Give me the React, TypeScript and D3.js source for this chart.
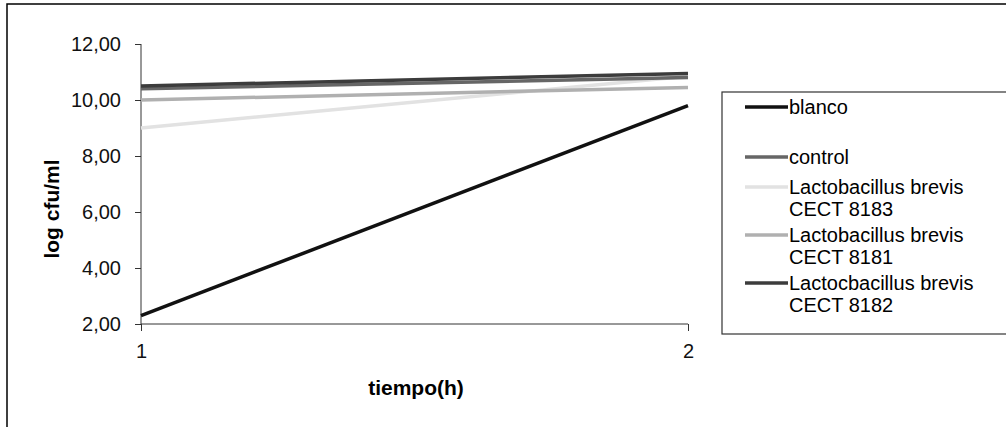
import { useRef, useEffect } from "react";
import * as d3 from "d3";

const times = [1, 2];
const seriesNames = [
  "blanco",
  "control",
  "Lactobacillus brevis\nCECT 8183",
  "Lactobacillus brevis\nCECT 8181",
  "Lactocbacillus brevis\nCECT 8182",
];
const blanco = [2.3, 9.8];
const control = [10.4, 10.8];
const brevis8183 = [9.0, 10.85];
const brevis8181 = [10.0, 10.45];
const brevis8182 = [10.5, 10.95];
const yTicks = [2, 4, 6, 8, 10, 12];

const colors = ["#111111", "#666666", "#e2e2e2", "#b0b0b0", "#3c3c3c"];

export default function App() {
  const svgRef = useRef<SVGSVGElement>(null);

  useEffect(() => {
    if (!svgRef.current) return;
    const svg = d3.select(svgRef.current);
    svg.selectAll("*").remove();

    const font = "'Liberation Sans', Arial, sans-serif";
    const x = d3.scaleLinear().domain([1, 2]).range([141, 688]);
    const y = d3.scaleLinear().domain([2, 12]).range([324, 44]);

    // outer frame
    svg.append("rect")
      .attr("x", 7).attr("y", 4)
      .attr("width", 1010).attr("height", 440)
      .attr("fill", "white").attr("stroke", "#000").attr("stroke-width", 1.5);

    // axes
    const yAxis = svg.append("g").attr("transform", "translate(141,0)")
      .call(d3.axisLeft(y).tickValues(yTicks).tickSize(6).tickPadding(14)
        .tickFormat((d) => d3.format(".2f")(d as number).replace(".", ",")));
    yAxis.select(".domain").attr("stroke", "#333").attr("d", "M0,44V324");
    yAxis.selectAll("line").attr("stroke", "#333");
    yAxis.selectAll("text").attr("font-family", font).attr("font-size", 20).attr("fill", "#111");

    const xAxis = svg.append("g").attr("transform", "translate(0,324)")
      .call(d3.axisBottom(x).tickValues(times).tickSize(7).tickPadding(13)
        .tickFormat((d) => String(d)));
    xAxis.select(".domain").attr("stroke", "#333").attr("d", "M141,0H688");
    xAxis.selectAll("line").attr("stroke", "#333");
    xAxis.selectAll("text").attr("font-family", font).attr("font-size", 20).attr("fill", "#111");

    // lines
    const data = [blanco, control, brevis8183, brevis8181, brevis8182];
    const line = d3.line<number>().x((_, i) => x(times[i])).y((d) => y(d));
    const order = [2, 3, 1, 4, 0];
    order.forEach((i) => {
      svg.append("path")
        .datum(data[i])
        .attr("d", line)
        .attr("fill", "none")
        .attr("stroke", colors[i])
        .attr("stroke-width", 3.5);
    });

    // axis titles
    svg.append("text")
      .attr("x", 416).attr("y", 395)
      .attr("text-anchor", "middle")
      .attr("font-family", font).attr("font-size", 21).attr("font-weight", "bold")
      .text("tiempo(h)");
    svg.append("text")
      .attr("transform", "translate(59,209) rotate(-90)")
      .attr("text-anchor", "middle")
      .attr("font-family", font).attr("font-size", 21).attr("font-weight", "bold")
      .text("log cfu/ml");

    // legend
    svg.append("rect")
      .attr("x", 722).attr("y", 92)
      .attr("width", 300).attr("height", 242)
      .attr("fill", "white").attr("stroke", "#333").attr("stroke-width", 1.2);
    const legendY = [107, 157, 187, 235, 283];
    seriesNames.forEach((name, i) => {
      const ly = legendY[i];
      svg.append("line")
        .attr("x1", 745).attr("x2", 788)
        .attr("y1", ly).attr("y2", ly)
        .attr("stroke", colors[i]).attr("stroke-width", 3.5);
      const t = svg.append("text")
        .attr("x", 789).attr("y", ly + 7)
        .attr("font-family", font).attr("font-size", 20).attr("fill", "#000");
      name.split("\n").forEach((part, j) => {
        t.append("tspan").attr("x", 789).attr("dy", j === 0 ? 0 : 22).text(part);
      });
    });
  }, []);

  return (
    <svg
      ref={svgRef}
      width={1006}
      height={427}
      style={{ position: "absolute", left: 0, top: 0, background: "white" }}
    />
  );
}
